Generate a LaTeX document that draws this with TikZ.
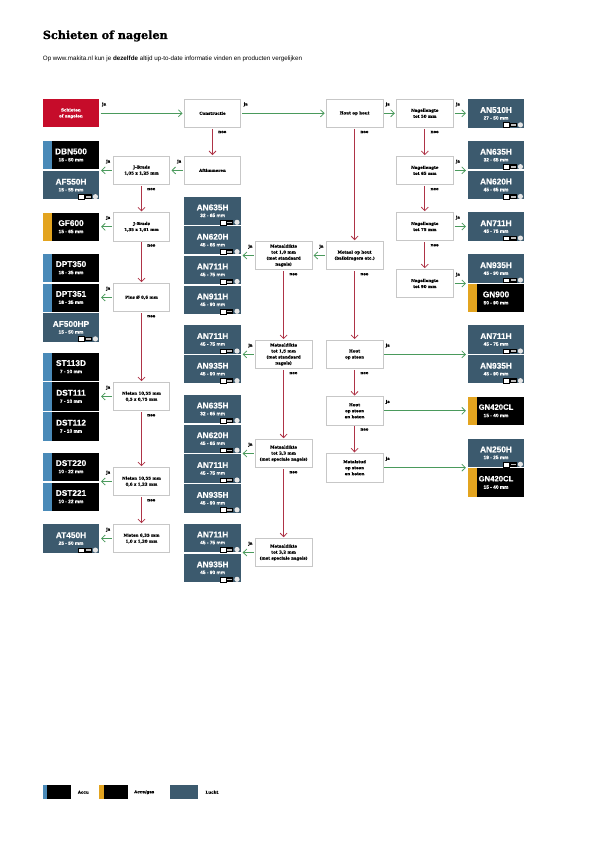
\documentclass[tikz,border=0pt]{standalone}
\usepackage{fontspec}
\setmainfont{Liberation Sans}
\newfontfamily\prodfont{Liberation Sans}[BoldFeatures={FakeBold=0.4}]
\newfontfamily\slabfont{DejaVu Serif}[BoldFeatures={FakeBold=0.5}]
\newfontfamily\headfont{DejaVu Serif}[BoldFeatures={FakeBold=1.2}]
\usetikzlibrary{arrows.meta}
\definecolor{luchtc}{HTML}{3C5A6E}
\definecolor{accuc}{HTML}{4A8AB8}
\definecolor{gasc}{HTML}{E3A41F}
\definecolor{redc}{HTML}{C60C2A}
\definecolor{yesc}{HTML}{4A9A5C}
\definecolor{noc}{HTML}{AE3346}
\tikzset{
  prodbase/.style={minimum width=56.6pt,minimum height=28.4pt,inner sep=0pt,outer sep=0pt},
  luchtbox/.style={prodbase,fill=luchtc},
  accubox/.style={prodbase,fill=black},
  prodtitle/.style={text=white,inner sep=0pt,font=\prodfont\bfseries\fontsize{8.3}{9}\selectfont},
  prodsub/.style={text=white,inner sep=0pt,font=\prodfont\bfseries\fontsize{4.8}{5}\selectfont},
  stepbox/.style={draw=black!22,line width=0.5pt,fill=white,minimum width=56.4pt,minimum height=28.2pt,inner sep=0pt,outer sep=0pt,align=center,font=\slabfont\bfseries\fontsize{4}{6}\selectfont},
  startbox/.style={stepbox,draw=none,fill=redc,text=white},
  lab/.style={inner sep=0pt,font=\slabfont\bfseries\fontsize{4}{5}\selectfont},
  yes/.style={draw=yesc,line width=0.85pt,-{Straight Barb[length=3.6pt,width=7pt,line width=0.75pt]},shorten <=1.6pt,shorten >=1.8pt},
  no/.style={draw=noc,line width=0.85pt,-{Straight Barb[length=3.6pt,width=7pt,line width=0.75pt]},shorten <=1.4pt,shorten >=1.2pt},
}
\newcommand{\luchtprod}[5]{% name, x, y, title, sub
  \node[luchtbox] (#1) at (#2+28.3,#3+14.2) {};
  \node[prodtitle] (#1-t) at ([yshift=3.4pt]#1.center) {#4};
  \node[prodsub] (#1-s) at ([yshift=-4.6pt]#1.center) {#5};
  \draw[draw=black,fill=white,line width=0.3pt] ([xshift=-21pt,yshift=0.3pt]#1.south east) rectangle ([xshift=-15pt,yshift=5pt]#1.south east);
  \fill[black] ([xshift=-15pt,yshift=0.3pt]#1.south east) rectangle ([xshift=-7.5pt,yshift=5pt]#1.south east);
  \fill[white!75!black] ([xshift=-13.8pt,yshift=1.6pt]#1.south east) rectangle ([xshift=-8.7pt,yshift=3.4pt]#1.south east);
  \fill[white!90!black] ([xshift=-3.9pt,yshift=2.7pt]#1.south east) circle (2.6pt);
}
\newcommand{\accuprod}[6]{% colour, name, x, y, title, sub
  \node[accubox] (#2) at (#3+28.3,#4+14.2) {};
  \fill[#1] (#2.north west) rectangle ([xshift=9.3pt]#2.south west);
  \node[prodtitle] (#2-t) at ([yshift=3.8pt]#2.center) {#5};
  \node[prodsub] (#2-s) at ([yshift=-4.6pt]#2.center) {#6};
}
\newcommand{\stepnode}[4]{\node[stepbox] (#1) at (#2+28.2,#3+14.1) {#4};}
\newcommand{\yesright}[2]{\draw[yes] (#1.east) -- (#1.east -| #2.west);
  \node[lab] (ja-#1) at ([xshift=5pt,yshift=-5.2pt]#1.north east) {ja};}
\newcommand{\yesleft}[2]{\draw[yes] (#1.west) -- (#1.west -| #2.east);
  \node[lab] (ja-#1) at ([xshift=-5pt,yshift=-5.2pt]#1.north west) {ja};}
\newcommand{\nodown}[2]{\draw[no] (#1.south) -- (#2.north);
  \node[lab] (nee-#1) at ([xshift=9.8pt,yshift=-4.6pt]#1.south) {nee};}
\newcommand{\gnname}{{\fontsize{7.7}{9}\selectfont GN420CL}}
\begin{document}
\begin{tikzpicture}[x=1pt,y=-1pt]
\useasboundingbox (0,0) rectangle (595,842);
\fill[white] (0,0) rectangle (595,842);
% heading
\node[anchor=base west,inner sep=0pt,font=\headfont\bfseries\fontsize{11.2}{13}\selectfont] (title) at (42.7,39) {Schieten of nagelen};
\node[anchor=base west,inner sep=0pt,font=\fontsize{6.25}{7}\selectfont] (subtitle) at (42.7,60.8) {Op www.makita.nl kun je \textbf{dezelfde} altijd up-to-date informatie vinden en producten vergelijken};
% steps
\node[startbox] (start) at (42.7+28.2,99.2+14.1) {Schieten\\of nagelen};
\stepnode{constr}{184.3}{99.2}{Constructie}
\stepnode{aft}{184.3}{156.3}{Aftimmeren}
\stepnode{jb1}{113.3}{156.3}{J-Brads\\1,05 x 1,25 mm}
\stepnode{jb2}{113.3}{212.7}{J-Brads\\1,35 x 1,61 mm}
\stepnode{pins}{113.3}{283.4}{Pins Ø 0,6 mm}
\stepnode{nt1}{113.3}{382.4}{Nieten 10,55 mm\\0,5 x 0,75 mm}
\stepnode{nt2}{113.3}{467.4}{Nieten 10,55 mm\\0,6 x 1,22 mm}
\stepnode{nt3}{113.3}{524.4}{Nieten 6,35 mm\\1,0 x 1,20 mm}
\stepnode{md1}{255.4}{241.4}{Metaaldikte\\tot 1,0 mm\\(met standaard\\nagels)}
\stepnode{md2}{255.4}{340.3}{Metaaldikte\\tot 1,5 mm\\(met standaard\\nagels)}
\stepnode{md3}{255.4}{439.4}{Metaaldikte\\tot 2,3 mm\\(met speciale nagels)}
\stepnode{md4}{255.4}{538.4}{Metaaldikte\\tot 3,2 mm\\(met speciale nagels)}
\stepnode{hh}{326.4}{99.2}{Hout op hout}
\stepnode{mh}{326.4}{241.4}{Metaal op hout\\(balkdragers etc.)}
\stepnode{hs}{326.4}{340.3}{Hout\\op steen}
\stepnode{hb}{326.4}{396.7}{Hout\\op steen\\en beton}
\stepnode{ms}{326.4}{453.6}{Metalstud\\op steen\\en beton}
\stepnode{ng1}{396.6}{99.2}{Nagellengte\\tot 50 mm}
\stepnode{ng2}{396.6}{156.3}{Nagellengte\\tot 65 mm}
\stepnode{ng3}{396.6}{212.4}{Nagellengte\\tot 75 mm}
\stepnode{ng4}{396.6}{269.4}{Nagellengte\\tot 90 mm}
% products, left column
\accuprod{accuc}{dbn}{42.7}{141}{DBN500}{15 - 50 mm}
\luchtprod{afa}{42.7}{171}{AF550H}{15 - 55 mm}
\accuprod{gasc}{gf}{42.7}{212.7}{GF600}{15 - 65 mm}
\accuprod{accuc}{dpa}{42.7}{253.7}{DPT350}{18 - 35 mm}
\accuprod{accuc}{dpb}{42.7}{283.5}{DPT351}{18 - 35 mm}
\luchtprod{afb}{42.7}{313.2}{AF500HP}{15 - 50 mm}
\accuprod{accuc}{sta}{42.7}{352.7}{ST113D}{7 - 10 mm}
\accuprod{accuc}{dsa}{42.7}{382.4}{DST111}{7 - 10 mm}
\accuprod{accuc}{dsb}{42.7}{412.3}{DST112}{7 - 10 mm}
\accuprod{accuc}{dsc}{42.7}{452.7}{DST220}{10 - 22 mm}
\accuprod{accuc}{dsd}{42.7}{482.6}{DST221}{10 - 22 mm}
\luchtprod{ata}{42.7}{524.4}{AT450H}{25 - 50 mm}
% products, middle column
\luchtprod{ma}{184.3}{196.6}{AN635H}{32 - 65 mm}
\luchtprod{mb}{184.3}{226}{AN620H}{45 - 65 mm}
\luchtprod{mc}{184.3}{255.8}{AN711H}{45 - 75 mm}
\luchtprod{md}{184.3}{285.6}{AN911H}{45 - 90 mm}
\luchtprod{me}{184.3}{325.3}{AN711H}{45 - 75 mm}
\luchtprod{mf}{184.3}{355}{AN935H}{45 - 90 mm}
\luchtprod{mg}{184.3}{394.8}{AN635H}{32 - 65 mm}
\luchtprod{mh2}{184.3}{424.5}{AN620H}{45 - 65 mm}
\luchtprod{mi}{184.3}{454.3}{AN711H}{45 - 75 mm}
\luchtprod{mj}{184.3}{484.1}{AN935H}{45 - 90 mm}
\luchtprod{mk}{184.3}{523.8}{AN711H}{45 - 75 mm}
\luchtprod{ml}{184.3}{553.6}{AN935H}{45 - 90 mm}
% products, right column
\luchtprod{ra}{467.7}{99.2}{AN510H}{27 - 50 mm}
\luchtprod{rb}{467.7}{141}{AN635H}{32 - 65 mm}
\luchtprod{rc}{467.7}{170.8}{AN620H}{45 - 65 mm}
\luchtprod{rd}{467.7}{212.4}{AN711H}{45 - 75 mm}
\luchtprod{re}{467.7}{254.4}{AN935H}{45 - 90 mm}
\accuprod{gasc}{rf}{467.7}{284}{GN900}{50 - 90 mm}
\luchtprod{rg}{467.7}{325.3}{AN711H}{45 - 75 mm}
\luchtprod{rh}{467.7}{355}{AN935H}{45 - 90 mm}
\accuprod{gasc}{ri}{467.7}{396.7}{\gnname}{15 - 40 mm}
\luchtprod{rj}{467.7}{438.6}{AN250H}{19 - 25 mm}
\accuprod{gasc}{rk}{467.7}{468.3}{\gnname}{15 - 40 mm}
% yes connectors
\yesright{start}{constr}
\yesright{constr}{hh}
\yesright{hh}{ng1}
\yesright{ng1}{ra}
\yesright{ng2}{rb}
\yesright{ng3}{rd}
\yesright{ng4}{re}
\yesright{hs}{rg}
\yesright{hb}{ri}
\yesright{ms}{rj}
\yesleft{aft}{jb1}
\yesleft{jb1}{dbn}
\yesleft{jb2}{gf}
\yesleft{pins}{dpb}
\yesleft{nt1}{dsa}
\yesleft{nt2}{dsc}
\yesleft{nt3}{ata}
\yesleft{mh}{md1}
\yesleft{md1}{mb}
\yesleft{md2}{me}
\yesleft{md3}{mi}
\yesleft{md4}{mk}
% no connectors
\nodown{constr}{aft}
\nodown{jb1}{jb2}
\nodown{jb2}{pins}
\nodown{pins}{nt1}
\nodown{nt1}{nt2}
\nodown{nt2}{nt3}
\nodown{md1}{md2}
\nodown{md2}{md3}
\nodown{md3}{md4}
\nodown{hh}{mh}
\nodown{mh}{hs}
\nodown{hs}{hb}
\nodown{hb}{ms}
\nodown{ng1}{ng2}
\nodown{ng2}{ng3}
\nodown{ng3}{ng4}
% legend
\node[accubox,minimum width=28.4pt,minimum height=14.3pt] (lega) at (56.9,792.2) {};
\fill[accuc] (lega.north west) rectangle ([xshift=4pt]lega.south west);
\node[lab,anchor=west] (lega-t) at (77.7,792.2) {Accu};
\node[accubox,minimum width=28.6pt,minimum height=14.3pt] (legb) at (113.3,792.2) {};
\fill[gasc] (legb.north west) rectangle ([xshift=4.6pt]legb.south west);
\node[lab,anchor=west] (legb-t) at (134,792.2) {Accu/gas};
\node[luchtbox,minimum width=28.3pt,minimum height=14.3pt] (legc) at (184.2,792.2) {};
\node[lab,anchor=west] (legc-t) at (205.3,792.2) {Lucht};
\end{tikzpicture}
\end{document}
